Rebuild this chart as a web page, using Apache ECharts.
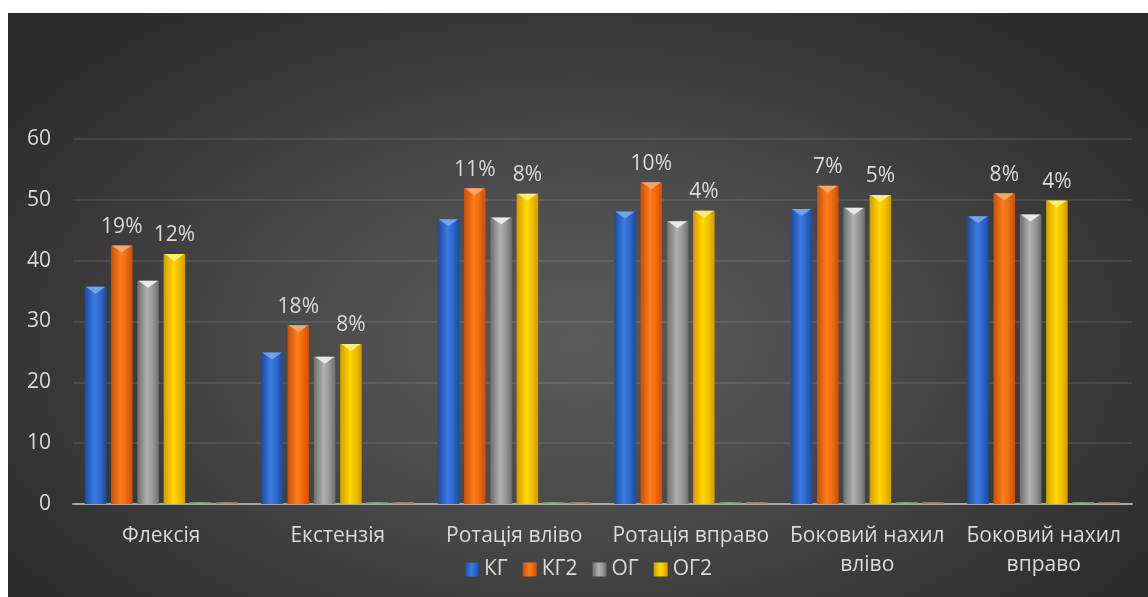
<!DOCTYPE html>
<html>
<head>
<meta charset="utf-8">
<script src="https://cdn.jsdelivr.net/npm/echarts@6/dist/echarts.min.js"></script>
<style>
  html, body { margin: 0; padding: 0; background: #ffffff; width: 1148px; height: 597px; overflow: hidden; }
  #chart {
    position: absolute; left: 8px; top: 13px; width: 1140px; height: 584px;
    background: radial-gradient(ellipse 62% 72% at 50% 56%, #5b5b5b 0%, #4b4b4b 40%, #2a2a2a 100%);
  }
</style>
</head>
<body>
<div id="chart"></div>
<script>
const categories = ['Флексія', 'Екстензія', 'Ротація вліво', 'Ротація вправо', 'Боковий нахил вліво', 'Боковий нахил вправо'];
const seriesNames = ['КГ', 'КГ2', 'ОГ', 'ОГ2', 'Ряд 5', 'Ряд 6'];
const kg  = [35.7, 24.9, 46.8, 48.1, 48.5, 47.3];
const kg2 = [42.5, 29.4, 51.9, 52.9, 52.3, 51.1];
const og  = [36.7, 24.2, 47.1, 46.5, 48.7, 47.6];
const og2 = [41.1, 26.3, 51.0, 48.2, 50.8, 49.9];
const s5  = [0.3, 0.3, 0.3, 0.3, 0.3, 0.3];
const s6  = [0.3, 0.3, 0.3, 0.3, 0.3, 0.3];
const pctKG2 = ['19%', '18%', '11%', '10%', '7%', '8%'];
const pctOG2 = ['12%', '8%', '8%', '4%', '5%', '4%'];
const yTicks = [0, 10, 20, 30, 40, 50, 60];

const palettes = [
  { edge: '#1f4a9c', mid: '#3a7be2', light: '#2f68cf', tri: '#79a8f0', main: '#2f6ad0' },
  { edge: '#c4510e', mid: '#ff7d1c', light: '#f06a12', tri: '#ffab70', main: '#f26b12' },
  { edge: '#6e6e6e', mid: '#b0b0b0', light: '#9a9a9a', tri: '#f0f0f0', main: '#a0a0a0' },
  { edge: '#d39a00', mid: '#ffd800', light: '#f2c200', tri: '#fff27a', main: '#f5c400' },
  { edge: '#7f9f70', mid: '#8fb080', light: '#88a878', tri: '#8fb080', main: '#88a878' },
  { edge: '#a07d70', mid: '#b08a7c', light: '#a88476', tri: '#b08a7c', main: '#a88476' }
];
const seriesData = [kg, kg2, og, og2, s5, s6];
const seriesLabels = [null, pctKG2, null, pctOG2, null, null];
const FONT = 21;

function gradFor(p) {
  return new echarts.graphic.LinearGradient(0, 0, 1, 0, [
    { offset: 0, color: p.edge },
    { offset: 0.45, color: p.mid },
    { offset: 0.7, color: p.light },
    { offset: 1, color: p.edge }
  ]);
}

function makeRender(idx) {
  const p = palettes[idx];
  const labels = seriesLabels[idx];
  return function (params, api) {
    const ci = api.value(0), v = api.value(1);
    const p0 = api.coord([ci, 0]);
    const p1 = api.coord([ci, v]);
    const band = api.size([1, 0])[0];
    const w = band * 0.122, step = band * 0.149;
    const cx = p0[0] - (5 * step) / 2 + idx * step;
    const x = cx - w / 2;
    const yTop = p1[1];
    const h = p0[1] - p1[1];
    const children = [{
      type: 'rect',
      shape: { x: x, y: yTop, width: w, height: h },
      style: { fill: gradFor(p) }
    }];
    if (idx < 4) {
      children.push({
        type: 'polygon',
        shape: { points: [[x + 1, yTop], [x + w - 1, yTop], [cx, yTop + 7]] },
        style: { fill: p.tri, opacity: 0.9 }
      });
    }
    if (labels) {
      children.push({
        type: 'text',
        style: {
          x: cx, y: yTop - 8, text: labels[ci],
          fill: '#d9d9d9', font: FONT + 'px "Open Sans"',
          align: 'center', verticalAlign: 'bottom'
        }
      });
    }
    return { type: 'group', children: children };
  };
}

function wrapLabel(s) {
  if (s.length <= 15) return s;
  const k = s.lastIndexOf(' ');
  return s.slice(0, k) + '\n' + s.slice(k + 1);
}

const chart = echarts.init(document.getElementById('chart'), null, { renderer: 'canvas' });
const option = {
  backgroundColor: 'transparent',
  animation: false,
  textStyle: { fontFamily: 'Open Sans' },
  grid: { left: 65, right: 16, top: 126, bottom: 93, containLabel: false, outerBoundsMode: 'none' },
  legend: {
    data: seriesNames.slice(0, 4).map((n, i) => ({ name: n, itemStyle: { color: gradFor(palettes[i]) } })),
    left: 452, top: 541,
    icon: 'rect', itemWidth: 14, itemHeight: 14, itemGap: 15,
    textStyle: { color: '#d9d9d9', fontSize: FONT, fontFamily: 'Open Sans' }
  },
  xAxis: {
    type: 'category',
    data: categories,
    axisLine: { show: true, lineStyle: { color: '#a6a6a6', width: 2 } },
    axisTick: { show: false },
    axisLabel: {
      color: '#d9d9d9', fontSize: FONT, fontFamily: 'Open Sans', margin: 18,
      lineHeight: 29, interval: 0, hideOverlap: false,
      formatter: wrapLabel
    },
    splitLine: { show: false }
  },
  yAxis: {
    type: 'value', min: 0, max: 60, interval: 10,
    axisLine: { show: false }, axisTick: { show: false },
    axisLabel: {
      color: '#d9d9d9', fontSize: FONT, fontFamily: 'Open Sans', margin: 22,
      formatter: v => (yTicks.indexOf(v) >= 0 ? String(v) : '')
    },
    splitLine: { lineStyle: { color: 'rgba(255,255,255,0.09)', width: 2 } }
  },
  series: seriesData.map((arr, i) => ({
    name: seriesNames[i],
    type: 'custom',
    renderItem: makeRender(i),
    itemStyle: { color: palettes[i].main },
    encode: { x: 0, y: 1 },
    data: arr.map((v, ci) => [ci, v]),
    z: 3
  }))
};
chart.setOption(option);
</script>
</body>
</html>
